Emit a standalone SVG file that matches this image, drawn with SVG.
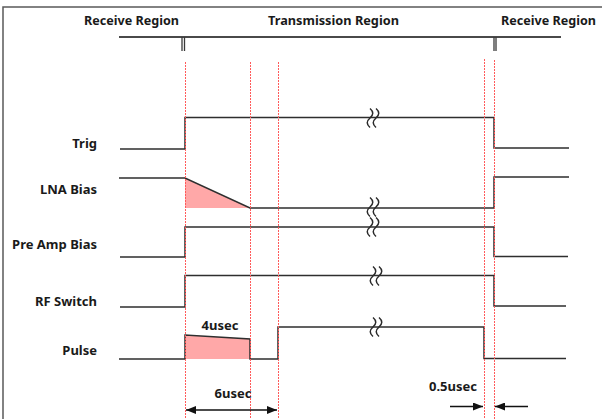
<svg xmlns="http://www.w3.org/2000/svg" width="602" height="419" viewBox="0 0 602 419">
<style>
.frame{stroke:#5a5a5a;stroke-width:1.5;fill:none}
.bar{stroke:#4a4a4a;stroke-width:2;fill:none}
.sig{stroke:#2e2e2e;stroke-width:1.5;fill:none;stroke-linejoin:miter}
.red{stroke:#ff5a5a;stroke-width:1;stroke-dasharray:2 1;fill:none}
.pink{fill:#ffa8a8;stroke:none}
.sq{stroke:#2a2a2a;stroke-width:1.5;fill:none}
.lbl{font-family:"Noto Sans","Open Sans",sans-serif;font-weight:bold;font-size:13px;fill:#1a1a1a}
.arr{stroke:#111;stroke-width:1.5;fill:none}
</style>
<defs>
<marker id="ah" viewBox="0 0 10 8" refX="10" refY="4" markerWidth="10" markerHeight="8" markerUnits="userSpaceOnUse" orient="auto-start-reverse">
<path d="M0,0 L10,4 L0,8 z" fill="#111"/>
</marker>
<g id="squig">
<path class="sq" d="M-3,-9.5 Q2.5,-4.75 -3,0 Q-8.5,4.75 -3,9.5"/>
<path class="sq" d="M3,-9.5 Q8.5,-4.75 3,0 Q-2.5,4.75 3,9.5"/>
</g>
</defs>
<rect width="602" height="419" fill="#fff"/>
<g id="frame">
<path class="frame" d="M3,419 V7 H602"/>
</g>
<g id="header">
<text class="lbl" x="84" y="25" textLength="95" lengthAdjust="spacingAndGlyphs">Receive Region</text>
<text class="lbl" x="268" y="25" textLength="131" lengthAdjust="spacingAndGlyphs">Transmission Region</text>
<text class="lbl" x="501" y="25" textLength="95" lengthAdjust="spacingAndGlyphs">Receive Region</text>
<path class="bar" d="M119,37 H561"/>
<path d="M182,37 V51 M184.5,37 V51 M494,37 V51 M496,37 V51" stroke="#3a3a3a" stroke-width="1.3" fill="none"/>
</g>
<g id="labels">
<text class="lbl" x="97" y="148" text-anchor="end">Trig</text>
<text class="lbl" x="97" y="194" text-anchor="end">LNA Bias</text>
<text class="lbl" x="97" y="249" text-anchor="end">Pre Amp Bias</text>
<text class="lbl" x="97" y="306" text-anchor="end">RF Switch</text>
<text class="lbl" x="97" y="355" text-anchor="end">Pulse</text>
</g>
<g id="fills">
<polygon class="pink" points="185,178 250,208 185,208"/>
<polygon class="pink" points="185,335 250,339 250,359 185,359"/>
</g>
<g id="trig">
<path class="sig" d="M120,149 H185 V117.5 H494 V148 H569"/>
<use href="#squig" x="373" y="118"/>
</g>
<g id="lna-bias">
<path class="sig" d="M119,178 H185 L250,208 H494 V177 H569"/>
<use href="#squig" x="373" y="207"/>
</g>
<g id="pre-amp-bias">
<path class="sig" d="M120,257 H185 V227 H494 V256.5 H568"/>
<use href="#squig" x="373" y="227"/>
</g>
<g id="rf-switch">
<path class="sig" d="M120,307 H185 V275.5 H494 V306 H566"/>
<use href="#squig" x="376" y="276"/>
</g>
<g id="pulse">
<path class="sig" d="M119,359 H185 V335 L250,339 V359 H278 V327 H484 V358.5 H566"/>
<use href="#squig" x="376" y="327"/>
</g>
<g id="guides">
<path class="red" d="M185.5,62 V419 M250.5,62 V419 M278.5,62 V419 M484.5,59 V419 M494.5,60 V419"/>
</g>
<g id="connectors">
<path class="arr" d="M186,410 H277" marker-start="url(#ah)" marker-end="url(#ah)"/>
<path class="arr" d="M450,406.5 H483" marker-end="url(#ah)"/>
<path class="arr" d="M528,406.5 H495" marker-end="url(#ah)"/>
</g>
<g id="annotations">
<text class="lbl" x="220" y="330" text-anchor="middle">4usec</text>
<text class="lbl" x="233" y="398" text-anchor="middle">6usec</text>
<text class="lbl" x="453" y="391" text-anchor="middle">0.5usec</text>
</g>
</svg>
